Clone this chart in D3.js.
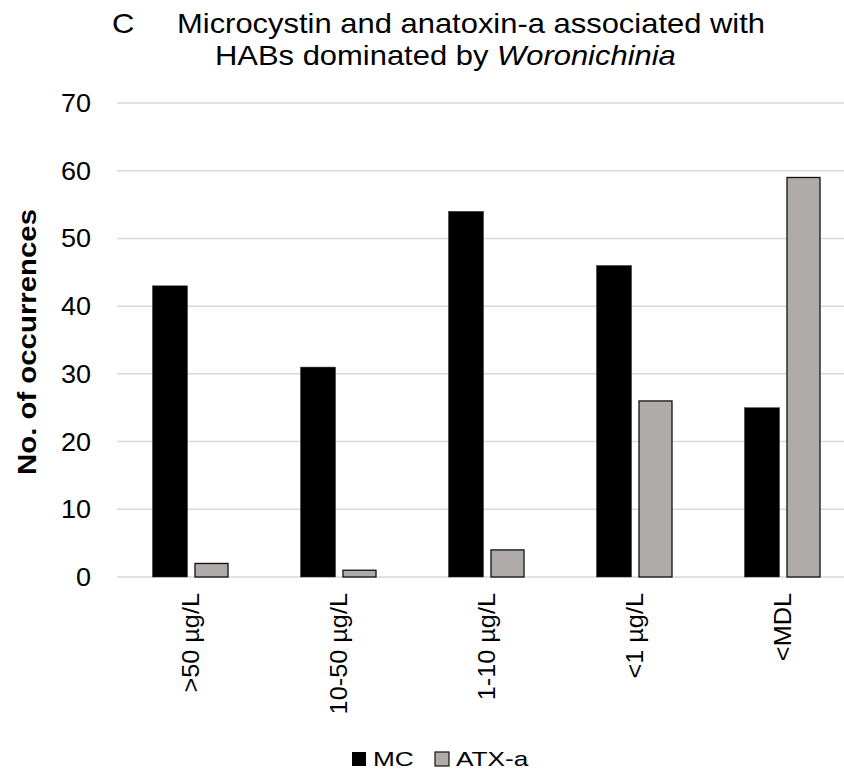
<!DOCTYPE html>
<html>
<head>
<meta charset="utf-8">
<script src="https://cdn.jsdelivr.net/npm/d3@7"></script>
<style>
  body { margin: 0; background: #fff; }
  text { font-family: "Liberation Sans", Arial, sans-serif; fill: #000; }
</style>
</head>
<body>
<svg id="chart" width="844" height="772"></svg>
<script>
const categories = [">50 \u00b5g/L", "10-50 \u00b5g/L", "1-10 \u00b5g/L", "<1 \u00b5g/L", "<MDL"];
const seriesNames = ["MC", "ATX-a"];
const mcValues = [43, 31, 54, 46, 25];
const atxValues = [2, 1, 4, 26, 59];
const yTicks = [0, 10, 20, 30, 40, 50, 60, 70];
const colors = {"MC": "#000000", "ATX-a": "#aeabaa"};

const svg = d3.select('#chart');
const margin = {top: 103, left: 117};
const plotW = 740, plotH = 474;
const sx = 1.08; // text in the original is a bit wide

const g = svg.append('g').attr('transform', `translate(${margin.left},${margin.top})`);

const x = d3.scaleBand().domain(categories).range([0, plotW]);
const y = d3.scaleLinear().domain([0, 70]).range([plotH, 0]);
const barW = 35, gap = 7;

// gridlines
g.selectAll('.grid').data(yTicks).enter().append('line')
  .attr('x1', 0).attr('x2', plotW)
  .attr('y1', d => y(d)).attr('y2', d => y(d))
  .attr('stroke', '#d9d9d9').attr('stroke-width', 1.5);

// y labels
g.selectAll('.ylab').data(yTicks).enter().append('text')
  .attr('transform', d => `translate(-26,${y(d)}) scale(${sx},1)`)
  .attr('dy', '0.36em')
  .attr('text-anchor', 'end').attr('font-size', 25)
  .text(d => d);

const data = categories.map((c, i) => ({cat: c, MC: mcValues[i], "ATX-a": atxValues[i]}));

const groups = g.selectAll('.grp').data(data).enter().append('g')
  .attr('transform', d => `translate(${x(d.cat) + x.bandwidth() / 2},0)`);

groups.append('rect')
  .attr('x', -barW - gap / 2).attr('width', barW)
  .attr('y', d => y(d.MC)).attr('height', d => plotH - y(d.MC))
  .attr('fill', colors.MC).attr('stroke', '#333').attr('stroke-width', 0.5);

groups.append('rect')
  .attr('x', gap / 2 + 0.5).attr('width', barW - 2)
  .attr('y', d => y(d["ATX-a"])).attr('height', d => plotH - y(d["ATX-a"]))
  .attr('fill', colors["ATX-a"]).attr('stroke', '#111').attr('stroke-width', 1.3);

// x labels
groups.append('text')
  .attr('transform', `translate(8,${plotH + 16}) rotate(-90) scale(1.1,1)`)
  .attr('text-anchor', 'end').attr('font-size', 23)
  .text(d => d.cat);

// y axis title
svg.append('text')
  .attr('transform', 'translate(36,342) rotate(-90) scale(1.13,1)')
  .attr('text-anchor', 'middle').attr('font-size', 26).attr('font-weight', 'bold')
  .text('No. of occurrences');

// title
const tsx = 1.105;
svg.append('text').attr('transform', `translate(112,33) scale(${tsx},1)`)
  .attr('font-size', 28).text('C');
svg.append('text').attr('transform', `translate(177,33) scale(${tsx},1)`)
  .attr('font-size', 28).text('Microcystin and anatoxin-a associated with');
const t2 = svg.append('text').attr('transform', `translate(215,65) scale(${tsx},1)`)
  .attr('font-size', 28);
t2.append('tspan').text('HABs dominated by ');
t2.append('tspan').attr('font-style', 'italic').text('Woronichinia');

// legend
const legend = svg.append('g').attr('transform', 'translate(352,766)');
const legItems = [{name: "MC", x: 0}, {name: "ATX-a", x: 83}];
legItems.forEach(it => {
  legend.append('rect').attr('x', it.x).attr('y', -14).attr('width', 14).attr('height', 14)
    .attr('fill', colors[it.name]).attr('stroke', '#111').attr('stroke-width', it.name === 'MC' ? 0 : 1.2);
  legend.append('text').attr('transform', `translate(${it.x + 21},0) scale(1.25,1)`)
    .attr('font-size', 21).text(it.name);
});
</script>
</body>
</html>
